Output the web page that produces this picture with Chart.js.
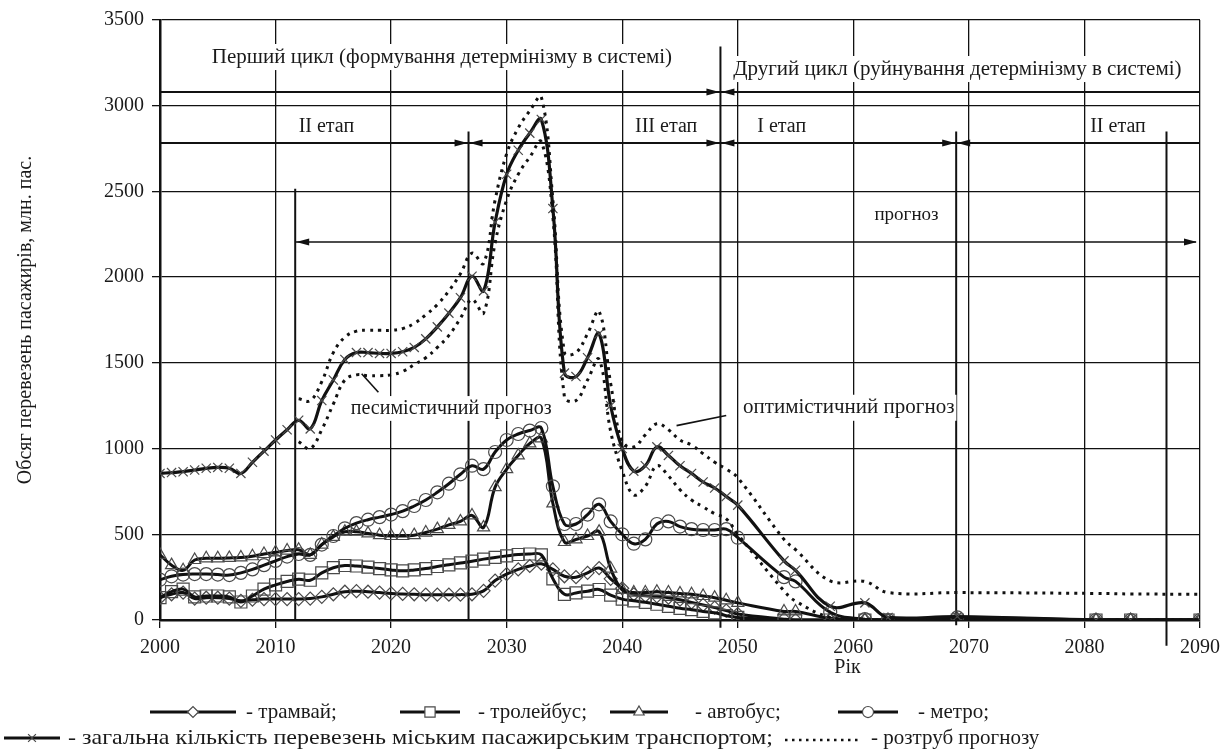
<!DOCTYPE html>
<html>
<head>
<meta charset="utf-8">
<title>Обсяг перевезень пасажирів</title>
<script src="https://cdn.jsdelivr.net/npm/chart.js@4.4.1/dist/chart.umd.min.js"></script>
<style>
  html, body { margin: 0; padding: 0; background: #ffffff; }
  #wrap { position: relative; width: 1222px; height: 751px; }
</style>
</head>
<body>
<div id="wrap"><canvas id="chart" width="1222" height="751"></canvas></div>
<script>
// ---- Data: passenger volume by mode, mln passengers ----
const years = [
  2000, 2001, 2002, 2003, 2004, 2005, 2006, 2007, 2008, 2009,
  2010, 2011, 2012, 2013, 2014, 2015, 2016, 2017, 2018, 2019,
  2020, 2021, 2022, 2023, 2024, 2025, 2026, 2027, 2028, 2029,
  2030, 2031, 2032, 2033, 2034, 2035, 2036, 2037, 2038, 2039,
  2040, 2041, 2042, 2043, 2044, 2045, 2046, 2047, 2048, 2049,
  2050, 2054, 2055, 2058, 2061, 2063, 2069, 2081, 2084, 2090
];

const tram = [
  130, 150, 160, 125, 130, 130, 125, 112, 118, 122,
  122, 122, 122, 125, 135, 150, 165, 168, 165, 160,
  155, 152, 150, 148, 148, 148, 148, 150, 170, 230,
  268, 295, 315, 328, 295, 255, 250, 275, 303, 240,
  185, 150, 142, 138, 130, 118, 103, 88, 72, 55,
  35, 5, 0, 0, 0, 0, 0, 0, 0, 0
];

const trolleybus = [
  130, 165, 180, 135, 140, 140, 135, 105, 140, 180,
  205, 225, 238, 232, 275, 305, 318, 315, 308, 300,
  292, 287, 292, 300, 312, 322, 333, 343, 355, 365,
  374, 382, 385, 380, 240, 150, 158, 168, 178, 145,
  122, 112, 103, 92, 80, 68, 60, 50, 42, 25,
  15, 0, 0, 0, 0, 0, 0, 0, 0, 0
];

const bus = [
  380, 320, 290, 350, 360, 360, 362, 365, 372, 385,
  395, 405, 410, 380, 440, 485, 515, 515, 505, 495,
  490, 490, 495, 510, 530, 555, 575, 610, 540, 775,
  880, 960, 1030, 1060, 680, 455, 470, 490, 515, 300,
  175, 160, 160, 165, 160, 155, 150, 140, 130, 115,
  100, 50, 50, 10, 0, 0, 5, 0, 0, 0
];

const metro = [
  235, 255, 265, 268, 268, 265, 262, 275, 295, 320,
  345, 370, 385, 380, 440, 490, 535, 565, 585, 600,
  615, 635, 665, 700, 745, 795, 850, 900, 880, 980,
  1050, 1085, 1105, 1120, 780, 560, 560, 615, 675, 575,
  500, 445, 470, 560, 575, 545, 530, 525, 525, 530,
  480, 250, 225, 45, 5, 0, 15, 0, 0, 0
];

const total = [
  855, 860, 865, 875, 885, 890, 885, 855, 920, 985,
  1050, 1110, 1165, 1115, 1280, 1400, 1520, 1560, 1560, 1555,
  1555, 1565, 1590, 1640, 1710, 1790, 1880, 2005, 1920, 2320,
  2600, 2740, 2840, 2920, 2400, 1440, 1420, 1530, 1670, 1250,
  1000, 868, 900, 1010, 960, 900, 855, 805, 770, 720,
  670, 345, 290, 80, 100, 15, 20, 0, 0, 0
];

// forecast funnel (upper / lower bound of the total)
const bandYears = [
  2012, 2013, 2014, 2015, 2016, 2017, 2018, 2019,
  2020, 2021, 2022, 2023, 2024, 2025, 2026, 2027, 2028, 2029,
  2030, 2031, 2032, 2033, 2034, 2035, 2036, 2037, 2038, 2039,
  2040, 2041, 2042, 2043, 2044, 2045, 2046, 2047, 2048, 2049,
  2050, 2054, 2055, 2058, 2061, 2063, 2069, 2081, 2084, 2090
];

const bandUpper = [
  1290, 1280, 1390, 1560, 1650, 1685, 1690, 1690,
  1690, 1700, 1730, 1780, 1840, 1920, 2020, 2140, 2080, 2450,
  2720, 2870, 2970, 3050, 2450, 1560, 1560, 1670, 1800, 1380,
  1040, 1010, 1080, 1145, 1110, 1050, 1020, 970, 920, 880,
  830, 470, 410, 228, 225, 160, 160, 155, 152, 150
];

const bandLower = [
  1040, 1000, 1110, 1260, 1400, 1430, 1425, 1425,
  1430, 1450, 1490, 1530, 1590, 1660, 1760, 1870, 1790, 2200,
  2450, 2600, 2700, 2790, 2350, 1300, 1280, 1400, 1520, 1100,
  870, 730, 780, 900, 840, 760, 700, 660, 620, 590,
  500, 170, 110, 15, 0, 0, 0, 0, 0, 0
];

const xTicks = [2000, 2010, 2020, 2030, 2040, 2050, 2060, 2070, 2080, 2090];
const yTicks = [0, 500, 1000, 1500, 2000, 2500, 3000, 3500];

// ---- Stage table drawn over the plot (years / values on the chart axes) ----
const tableRows = [3080, 2780];
const stageDividers = [
  { year: 2011.7, from: 0,    to: 2515 },
  { year: 2026.7, from: 0,    to: 2850 },
  { year: 2048.5, from: -45,  to: 3345 },
  { year: 2068.9, from: -30,  to: 2850 },
  { year: 2087.1, from: -150, to: 2850 }
];
const rowArrows = [
  { row: 3080, year: 2048.5 },
  { row: 2780, year: 2026.7 },
  { row: 2780, year: 2048.5 },
  { row: 2780, year: 2068.9 }
];
const forecastSpan = { value: 2205, from: 2011.7, to: 2090 };

const tableLabels = [
  { text: 'Перший цикл (формування детермінізму в системі)', year: 2024.4, value: 3284, size: 21 },
  { text: 'Другий цикл (руйнування детермінізму в системі)', year: 2069.0, value: 3214, size: 21 },
  { text: 'II етап',  year: 2014.4, value: 2876, size: 20 },
  { text: 'III етап', year: 2043.8, value: 2876, size: 20 },
  { text: 'I етап',   year: 2053.8, value: 2876, size: 20 },
  { text: 'II етап',  year: 2082.9, value: 2876, size: 20 },
  { text: 'прогноз',  year: 2064.6, value: 2362, size: 19 },
  { text: 'песимістичний прогноз', year: 2025.2, value: 1234, size: 20 },
  { text: 'оптимістичний прогноз', year: 2059.6, value: 1238, size: 21 }
];
const leaders = [
  { x1: 2017.45, y1: 1436, x2: 2018.9, y2: 1329 },
  { x1: 2044.7,  y1: 1134, x2: 2049.0, y2: 1193 }
];

const SERIF = '"Liberation Serif", "Times New Roman", serif';
const INK = '#111111';
const MARK = '#4a4a4a';

function pts(xs, ys) { return xs.map((x, i) => ({ x: x, y: ys[i] })); }

const seriesStyle = {
  tram:       { pointStyle: 'rectRot',  radius: 6.5 },
  trolleybus: { pointStyle: 'rect',     radius: 8.5 },
  bus:        { pointStyle: 'triangle', radius: 7 },
  metro:      { pointStyle: 'circle',   radius: 6.5 },
  total:      { pointStyle: 'crossRot', radius: 6.5 }
};

function lineSet(label, values, key, width) {
  const st = seriesStyle[key];
  return {
    label: label,
    data: pts(years, values),
    borderColor: INK,
    borderWidth: width,
    backgroundColor: 'rgba(0,0,0,0)',
    pointStyle: st.pointStyle,
    pointRadius: st.radius,
    pointBorderColor: MARK,
    pointBorderWidth: 1.2,
    pointBackgroundColor: 'rgba(0,0,0,0)',
    pointHoverRadius: st.radius,
    tension: 0.4,
    fill: false
  };
}

function bandSet(label, values) {
  return {
    label: label,
    data: pts(bandYears, values),
    borderColor: INK,
    borderWidth: 3,
    borderDash: [3, 5],
    pointRadius: 0,
    tension: 0.4,
    fill: false
  };
}

// ---- decorations plugin: stage table, arrows, notes, axis name, legend ----
function arrowHead(ctx, tipX, y, dir) {
  const len = 13, half = 3.5;
  ctx.beginPath();
  ctx.moveTo(tipX, y);
  ctx.lineTo(tipX - dir * len, y - half);
  ctx.lineTo(tipX - dir * len, y + half);
  ctx.closePath();
  ctx.fill();
}

function boxedText(ctx, text, cx, cy, size) {
  ctx.font = size + 'px ' + SERIF;
  const w = ctx.measureText(text).width;
  ctx.fillStyle = '#ffffff';
  ctx.fillRect(cx - w / 2 - 2, cy - size * 0.62, w + 4, size * 1.24);
  ctx.fillStyle = '#1a1a1a';
  ctx.textAlign = 'center';
  ctx.textBaseline = 'middle';
  ctx.fillText(text, cx, cy);
}

const decorations = {
  id: 'decorations',
  beforeDatasetsDraw(chart) {
    const { ctx, chartArea: a } = chart;
    const xs = chart.scales.x, ys = chart.scales.y;
    ctx.save();
    ctx.strokeStyle = INK;
    ctx.fillStyle = INK;
    ctx.lineWidth = 2;
    // horizontal rows of the stage table
    tableRows.forEach(v => {
      const y = Math.round(ys.getPixelForValue(v));
      ctx.beginPath(); ctx.moveTo(a.left, y); ctx.lineTo(a.right, y); ctx.stroke();
    });
    // stage dividers
    stageDividers.forEach(d => {
      const x = xs.getPixelForValue(d.year);
      ctx.beginPath();
      ctx.moveTo(x, ys.getPixelForValue(d.to));
      ctx.lineTo(x, ys.getPixelForValue(d.from));
      ctx.stroke();
    });
    // arrows meeting at the dividers
    rowArrows.forEach(r => {
      const x = xs.getPixelForValue(r.year);
      const y = Math.round(ys.getPixelForValue(r.row));
      arrowHead(ctx, x - 1, y, 1);
      arrowHead(ctx, x + 1, y, -1);
    });
    // forecast span
    const fy = ys.getPixelForValue(forecastSpan.value);
    const fx1 = xs.getPixelForValue(forecastSpan.from);
    const fx2 = xs.getPixelForValue(forecastSpan.to);
    ctx.lineWidth = 1.6;
    ctx.beginPath(); ctx.moveTo(fx1, fy); ctx.lineTo(fx2 - 4, fy); ctx.stroke();
    arrowHead(ctx, fx1 + 1, fy, -1);
    arrowHead(ctx, fx2 - 3, fy, 1);
    // leader lines of the notes
    ctx.lineWidth = 1.6;
    leaders.forEach(l => {
      ctx.beginPath();
      ctx.moveTo(xs.getPixelForValue(l.x1), ys.getPixelForValue(l.y1));
      ctx.lineTo(xs.getPixelForValue(l.x2), ys.getPixelForValue(l.y2));
      ctx.stroke();
    });
    // labels
    tableLabels.forEach(t => {
      boxedText(ctx, t.text, xs.getPixelForValue(t.year), ys.getPixelForValue(t.value), t.size);
    });
    ctx.restore();
  },
  afterDraw(chart) {
    const { ctx } = chart;
    const xs = chart.scales.x;
    ctx.save();
    // x axis name
    ctx.font = '20px ' + SERIF;
    ctx.fillStyle = '#1a1a1a';
    ctx.textAlign = 'center';
    ctx.textBaseline = 'middle';
    ctx.fillText('Рік', xs.getPixelForValue(2059.5), 668);

    // legend
    const font = '21px ' + SERIF;
    ctx.font = font;
    ctx.textAlign = 'left';
    function sample(x0, x1, y, key) {
      ctx.strokeStyle = INK; ctx.lineWidth = 3.2; ctx.setLineDash([]);
      ctx.beginPath(); ctx.moveTo(x0, y); ctx.lineTo(x1, y); ctx.stroke();
      const st = seriesStyle[key];
      ctx.fillStyle = '#ffffff'; ctx.strokeStyle = MARK; ctx.lineWidth = 1.2;
      Chart.helpers.drawPoint(ctx, { pointStyle: st.pointStyle, radius: st.radius * 0.85, borderWidth: 1.2, rotation: 0 }, (x0 + x1) / 2, y);
    }
    // draws a legend caption; an optional width widens the lettering to span it
    function label(text, x, y, width) {
      ctx.fillStyle = '#1a1a1a';
      ctx.font = font;
      ctx.textBaseline = 'middle';
      const natural = ctx.measureText(text).width;
      if (width) {
        ctx.save();
        ctx.translate(x, y);
        ctx.scale(width / natural, 1);
        ctx.fillText(text, 0, 0);
        ctx.restore();
        return x + width;
      }
      ctx.fillText(text, x, y);
      return x + natural;
    }
    const r1 = 712;
    sample(150, 236, r1, 'tram');       label('- трамвай;', 246, r1);
    sample(400, 460, r1, 'trolleybus'); label('- тролейбус;', 478, r1);
    sample(610, 668, r1, 'bus');        label('- автобус;', 695, r1);
    sample(838, 898, r1, 'metro');      label('- метро;', 918, r1);
    const r2 = 738;
    sample(4, 60, r2, 'total');
    const end = label('- загальна кількість перевезень міським пасажирським транспортом;', 68, r2, 705);
    ctx.strokeStyle = INK; ctx.lineWidth = 2.5; ctx.setLineDash([2.5, 4.5]);
    ctx.beginPath(); ctx.moveTo(end + 12, r2 + 2); ctx.lineTo(end + 86, r2 + 2); ctx.stroke();
    ctx.setLineDash([]);
    label('- розтруб прогнозу', end + 98, r2);
    ctx.restore();
  }
};

new Chart(document.getElementById('chart'), {
  type: 'line',
  data: {
    datasets: [
      bandSet('розтруб прогнозу (верх)', bandUpper),
      bandSet('розтруб прогнозу (низ)', bandLower),
      lineSet('загальна кількість перевезень міським пасажирським транспортом', total, 'total', 3.2),
      lineSet('метро', metro, 'metro', 3),
      lineSet('автобус', bus, 'bus', 3),
      lineSet('тролейбус', trolleybus, 'trolleybus', 3),
      lineSet('трамвай', tram, 'tram', 3)
    ]
  },
  options: {
    responsive: false,
    animation: false,
    events: [],
    layout: { padding: { top: 20, right: 22, left: 0, bottom: 0 } },
    plugins: { legend: { display: false }, tooltip: { enabled: false } },
    scales: {
      x: {
        type: 'linear',
        min: 2000, max: 2090,
        afterBuildTicks(s) { s.ticks = xTicks.map(v => ({ value: v })); },
        afterFit(s) { s.height = 131; s.paddingLeft = 0; s.paddingRight = 0; },
        grid: { color: INK, lineWidth: 1.3, tickLength: 8, drawOnChartArea: true },
        border: { color: INK, width: 2.5 },
        ticks: { color: '#1a1a1a', font: { family: SERIF, size: 20 }, padding: 8, callback: v => String(v), maxRotation: 0 }
      },
      y: {
        min: 0, max: 3500,
        afterBuildTicks(s) { s.ticks = yTicks.map(v => ({ value: v })); },
        afterFit(s) { s.width = 160; s.paddingTop = 0; s.paddingBottom = 0; },
        grid: { color: INK, lineWidth: 1.3, tickLength: 8 },
        border: { color: INK, width: 2.5 },
        ticks: { color: '#1a1a1a', font: { family: SERIF, size: 20 }, padding: 8, callback: v => String(v) },
        title: {
          display: true,
          text: 'Обсяг перевезень пасажирів, млн. пас.',
          color: '#1a1a1a',
          font: { family: SERIF, size: 20 },
          padding: { top: 14, bottom: 0 }
        }
      }
    }
  },
  plugins: [decorations]
});
</script>
</body>
</html>
